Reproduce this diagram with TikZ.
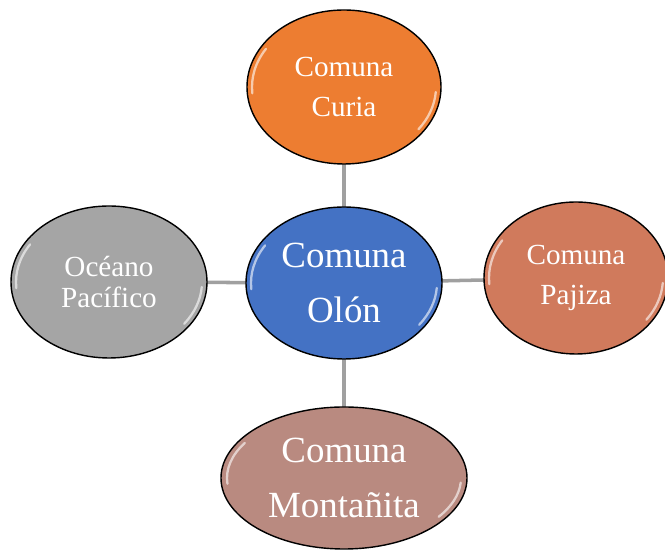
\documentclass[tikz,border=0pt]{standalone}
\usepackage{fontspec}
\setmainfont{Liberation Serif}
\usepackage{tikz}
\usetikzlibrary{shapes,calc}

\definecolor{naranja}{HTML}{ED7D31}
\definecolor{azul}{HTML}{4472C4}
\definecolor{gris}{HTML}{A5A5A5}
\definecolor{salmon}{HTML}{D07A5C}
\definecolor{rosado}{HTML}{B98A80}
\definecolor{gris enlace}{HTML}{A0A0A0}

\begin{document}
\begin{tikzpicture}[
  burbuja/.style={ellipse, draw=black, thick, inner sep=0pt, text=white, align=center},
  chica/.style={font=\fontsize{16.6}{22.8}\selectfont},
  grande/.style={font=\fontsize{21}{31}\selectfont},
  enlace/.style={draw=gris enlace, line width=2pt},
  brillo/.style={white, opacity=0.6, line width=1.3pt, line cap=round}]
\useasboundingbox (0,0) rectangle (13.3,11);

% conectores primero, debajo de las burbujas
\coordinate (cO) at (6.88,5.34);
\coordinate (cC) at (6.88,9.26);
\coordinate (cP) at (2.18,5.36);
\coordinate (cJ) at (11.52,5.44);
\coordinate (cM) at (6.88,1.44);
\draw[enlace] (cO) -- (cC);
\draw[enlace] (cO) -- (cP);
\draw[enlace] (cO) -- (cJ);
\draw[enlace] (cO) -- (cM);

\node (curia) at (cC) [burbuja, chica, fill=naranja, minimum width=3.88cm, minimum height=3.08cm] {Comuna\\Curia};
\node (olon) at (cO) [burbuja, grande, fill=azul, minimum width=3.92cm, minimum height=3.04cm] {Comuna\\Olón};
\node (oceano) at (cP) [burbuja, font=\fontsize{16.6}{17.8}\selectfont, fill=gris, minimum width=3.92cm, minimum height=3.04cm] {Océano\\Pacífico};
\node (pajiza) at (cJ) [burbuja, chica, fill=salmon, minimum width=3.68cm, minimum height=3.04cm] {Comuna\\Pajiza};
\node (montanita) at (cM) [burbuja, grande, fill=rosado, minimum width=4.92cm, minimum height=2.84cm] {Comuna\\Montañita};

% reflejos
\foreach \n/\a/\b in {curia/1.84/1.44, olon/1.86/1.42, oceano/1.86/1.42, pajiza/1.74/1.42, montanita/2.34/1.32}{
  \draw[brillo] ($(\n)+(148:\a cm and \b cm)$) arc[start angle=148, end angle=185, x radius=\a cm, y radius=\b cm];
  \draw[brillo] ($(\n)+(-4:\a cm and \b cm)$) arc[start angle=-4, end angle=-36, x radius=\a cm, y radius=\b cm];
}
\end{tikzpicture}
\end{document}
